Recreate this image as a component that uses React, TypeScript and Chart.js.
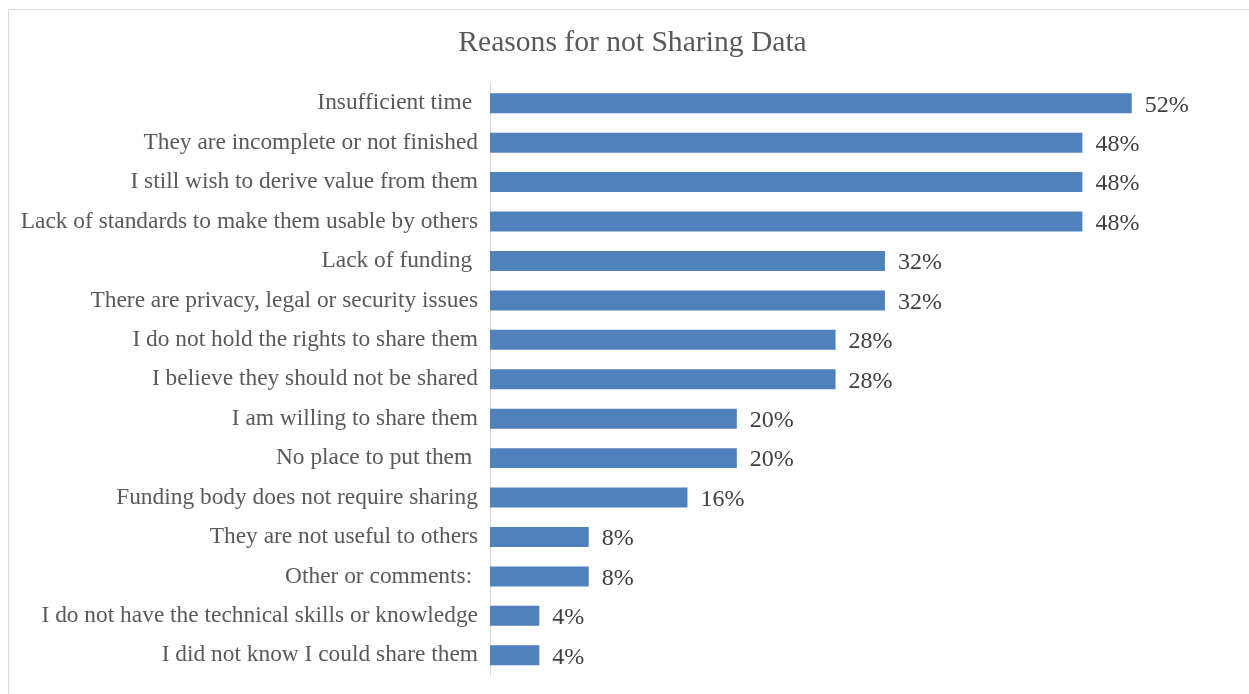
import React, { useEffect, useRef } from "react";
import { Chart, registerables } from "chart.js";

Chart.register(...registerables);

const categories = [
  "Insufficient time ",
  "They are incomplete or not finished",
  "I still wish to derive value from them",
  "Lack of standards to make them usable by others",
  "Lack of funding ",
  "There are privacy, legal or security issues",
  "I do not hold the rights to share them",
  "I believe they should not be shared",
  "I am willing to share them",
  "No place to put them ",
  "Funding body does not require sharing",
  "They are not useful to others",
  "Other or comments: ",
  "I do not have the technical skills or knowledge",
  "I did not know I could share them",
];

const values = [52, 48, 48, 48, 32, 32, 28, 28, 20, 20, 16, 8, 8, 4, 4];

const titleText = "Reasons for not Sharing Data";
const FONT = "'Liberation Serif', 'Times New Roman', serif";
const TEXT_COLOR = "#595959";
const BAR_COLOR = "#4F81BD";

const valueLabels = {
  id: "valueLabels",
  afterDatasetsDraw(chart: any) {
    const ctx = chart.ctx;
    const meta = chart.getDatasetMeta(0);
    ctx.save();
    ctx.font = `24px ${FONT}`;
    ctx.fillStyle = "#404040";
    ctx.textAlign = "left";
    ctx.textBaseline = "middle";
    meta.data.forEach((bar: any, i: number) => {
      ctx.fillText(`${values[i]}%`, bar.x + 13, bar.y + 2);
    });
    ctx.restore();
  },
};

export default function App() {
  const ref = useRef<HTMLCanvasElement | null>(null);

  useEffect(() => {
    if (!ref.current) return;
    const chart = new Chart(ref.current, {
      type: "bar",
      data: {
        labels: categories,
        datasets: [
          {
            data: values,
            backgroundColor: BAR_COLOR,
            borderWidth: 0,
            barPercentage: 0.507,
            categoryPercentage: 1,
          },
        ],
      },
      options: {
        indexAxis: "y",
        animation: false,
        responsive: false,
        maintainAspectRatio: false,
        layout: { padding: { top: 0, bottom: 19, left: 0, right: -16 } },
        plugins: {
          legend: { display: false },
          tooltip: { enabled: false },
          title: {
            display: true,
            text: titleText,
            color: TEXT_COLOR,
            font: { family: FONT, size: 29.6, weight: "normal" },
            padding: { top: 25, bottom: 23 },
          },
        },
        scales: {
          x: {
            display: false,
            min: 0,
            max: 61.5,
          },
          y: {
            grid: { display: false, drawTicks: false },
            border: { display: true, color: "#d9d9d9", width: 1 },
            ticks: {
              color: TEXT_COLOR,
              font: { family: FONT, size: 23.4 },
              padding: 12,
              autoSkip: false,
            },
            afterFit(scale: any) {
              scale.width = 490;
              scale.paddingTop = 0;
              scale.paddingBottom = 0;
            },
          },
        },
      },
      plugins: [valueLabels],
    });
    return () => chart.destroy();
  }, []);

  return (
    <div style={{ position: "absolute", left: 0, top: 0, width: 1249, height: 694, background: "#fff", overflow: "hidden" }}>
      <div
        style={{
          position: "absolute",
          left: 8,
          top: 9,
          width: 1260,
          height: 700,
          border: "1px solid #d9d9d9",
          boxSizing: "border-box",
        }}
      />
      <canvas ref={ref} width={1249} height={694} style={{ position: "absolute", left: 0, top: 0 }} />
    </div>
  );
}
